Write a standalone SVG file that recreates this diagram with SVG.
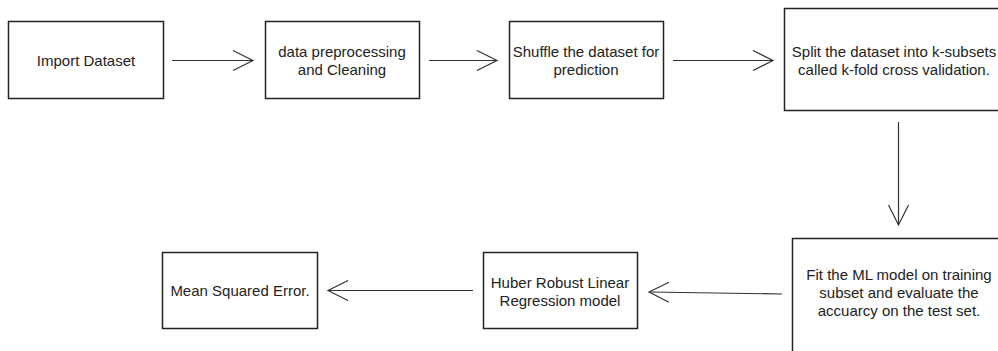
<svg xmlns="http://www.w3.org/2000/svg" width="998" height="351" viewBox="0 0 998 351">
  <style>
    .box { fill: #ffffff; stroke: #222222; stroke-width: 1.5; }
    .lbl { font-family: "Liberation Sans", Arial, sans-serif; font-size: 15px; fill: #222222; text-anchor: middle; }
    .conn { stroke: #333333; stroke-width: 1.2; fill: none; }
  </style>
  <defs>
    <marker id="open" markerUnits="userSpaceOnUse" markerWidth="24" markerHeight="24" refX="20" refY="10" orient="auto" overflow="visible">
      <path d="M0,0 L20,10 L0,20" fill="none" stroke="#333333" stroke-width="1.2"/>
    </marker>
  </defs>
  <rect width="998" height="351" fill="#ffffff"/>

  <g id="n1">
    <rect class="box" x="8.5" y="21.5" width="155" height="77"/>
    <text class="lbl" x="86" y="65.5">Import Dataset</text>
  </g>
  <g id="n2">
    <rect class="box" x="265.5" y="21.5" width="154" height="77"/>
    <text class="lbl" x="342" y="57">data preprocessing</text>
    <text class="lbl" x="342" y="75">and Cleaning</text>
  </g>
  <g id="n3">
    <rect class="box" x="509.5" y="21.5" width="154" height="77"/>
    <text class="lbl" x="586" y="57">Shuffle the dataset for</text>
    <text class="lbl" x="586" y="75">prediction</text>
  </g>
  <g id="n4">
    <rect class="box" x="784.5" y="8.5" width="220" height="102"/>
    <text class="lbl" x="894" y="57">Split the dataset into k-subsets</text>
    <text class="lbl" x="894" y="75">called k-fold cross validation.</text>
  </g>
  <g id="n5">
    <rect class="box" x="792.5" y="238.5" width="214" height="130"/>
    <text class="lbl" x="899" y="280">Fit the ML model on training</text>
    <text class="lbl" x="899" y="298">subset and evaluate the</text>
    <text class="lbl" x="899" y="316">accuarcy on the test set.</text>
  </g>
  <g id="n6">
    <rect class="box" x="483.5" y="252.5" width="154" height="76"/>
    <text class="lbl" x="560" y="287.5">Huber Robust Linear</text>
    <text class="lbl" x="560" y="305.5">Regression model</text>
  </g>
  <g id="n7">
    <rect class="box" x="162.5" y="252.5" width="155" height="76"/>
    <text class="lbl" x="240" y="295.5">Mean Squared Error.</text>
  </g>

  <g id="connectors">
    <line class="conn" x1="172" y1="60.5" x2="253" y2="60.5" marker-end="url(#open)"/>
    <line class="conn" x1="429" y1="60.5" x2="497" y2="60.5" marker-end="url(#open)"/>
    <line class="conn" x1="673" y1="60.5" x2="773" y2="60.5" marker-end="url(#open)"/>
    <line class="conn" x1="898.5" y1="122" x2="898.5" y2="225" marker-end="url(#open)"/>
    <line class="conn" x1="782" y1="294" x2="649" y2="292" marker-end="url(#open)"/>
    <line class="conn" x1="473" y1="290.5" x2="328" y2="290.5" marker-end="url(#open)"/>
  </g>
</svg>
